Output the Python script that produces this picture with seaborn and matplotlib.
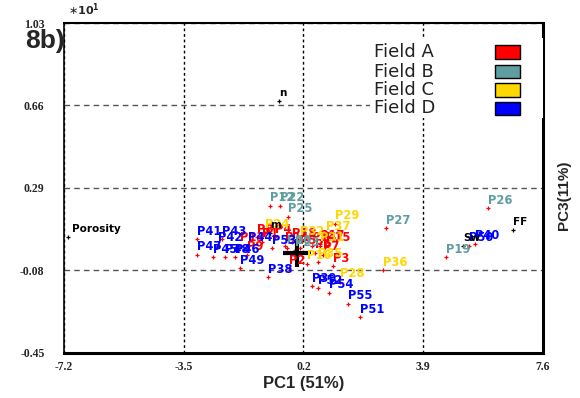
import seaborn as sns
import matplotlib.pyplot as plt
import pandas as pd
from matplotlib.patches import Rectangle

# muestras por campo (PC1, PC3 en unidades *10^1)
field_a_names = ['P1', 'P2', 'P3', 'P4', 'P5', 'P6', 'P7', 'P8', 'P9', 'P11', 'P13', 'P14', 'P15', 'P17', 'P18']
field_a_pc1 = [-1.08, -0.25, 1.11, -0.68, 0.09, 0.56, 0.80, -1.24, -1.55, -0.37, -1.76, 0.46, 0.90, 0.71, -0.15]
field_a_pc3 = [0.05, -0.07, -0.06, 0.07, 0.02, 0.00, -0.01, 0.07, -0.01, 0.03, 0.03, 0.03, 0.03, 0.04, 0.05]

field_b_names = ['P12', 'P22', 'P25', 'P27', 'P26', 'P19', 'P20', 'P23']
field_b_pc1 = [-0.83, -0.53, -0.28, 2.75, 5.90, 4.60, -0.31, -0.06]
field_b_pc3 = [0.21, 0.21, 0.16, 0.11, 0.20, -0.02, 0.02, 0.01]

field_c_names = ['P29', 'P37', 'P31', 'P36', 'P28', 'P16', 'P35', 'P32', 'P24']
field_c_pc1 = [1.17, 0.90, 0.71, 2.66, 1.33, 0.31, 0.65, 0.09, -0.99]
field_c_pc3 = [0.13, 0.08, 0.03, -0.08, -0.13, -0.05, -0.04, 0.06, 0.09]

field_d_names = ['P41', 'P43', 'P42', 'P47', 'P44', 'P48', 'P46', 'P45', 'P49', 'P38', 'P53',
                 'P39', 'P52', 'P54', 'P55', 'P51', 'P40', 'P50']
field_d_pc1 = [-3.09, -2.32, -2.44, -3.09, -1.51, -2.22, -1.92, -2.60, -1.76, -0.90, -0.77,
               0.46, 0.65, 0.99, 1.58, 1.95, 5.50, 5.32]
field_d_pc3 = [0.06, 0.06, 0.03, -0.01, 0.03, -0.02, -0.02, -0.02, -0.07, -0.11, 0.02,
               -0.15, -0.16, -0.18, -0.23, -0.29, 0.04, 0.03]

# variables (cargas)
var_names = ['Porosity', 'FF', 'm', 'n', 'Sw']
var_pc1 = [-7.08, 6.68, -0.83, -0.56, 5.13]
var_pc3 = [0.07, 0.10, 0.09, 0.68, 0.03]

origin_pc1 = [0.0]
origin_pc3 = [0.0]

fields = ['Field A', 'Field B', 'Field C', 'Field D']
field_colors = ['#ff0000', '#5f9ea0', '#ffd700', '#0000ff']

x_ticks = [-7.2, -3.5, 0.2, 3.9, 7.6]
y_ticks = [-0.45, -0.08, 0.29, 0.66, 1.03]


def montar_df():
    partes = []
    for f, n, x, y in zip(fields,
                          [field_a_names, field_b_names, field_c_names, field_d_names],
                          [field_a_pc1, field_b_pc1, field_c_pc1, field_d_pc1],
                          [field_a_pc3, field_b_pc3, field_c_pc3, field_d_pc3]):
        partes.append(pd.DataFrame({'name': n, 'pc1': x, 'pc3': y, 'field': f}))
    return pd.concat(partes, ignore_index=True)


def main():
    sns.set_style('white')
    plt.rcParams['font.family'] = ['DejaVu Sans']

    df = montar_df()
    df_var = pd.DataFrame({'name': var_names, 'pc1': var_pc1, 'pc3': var_pc3})

    fig = plt.figure(figsize=(5.8, 3.98), dpi=100)
    ax = fig.add_axes([0.1103, 0.1131, 0.8259, 0.8291])

    # marcadores
    sns.scatterplot(data=df, x='pc1', y='pc3', color='red', marker='+', s=8,
                    linewidth=0.9, ax=ax, zorder=3)
    sns.scatterplot(data=df_var, x='pc1', y='pc3', color='black', marker='+', s=8,
                    linewidth=0.9, ax=ax, zorder=3)
    ax.plot(origin_pc1, origin_pc3, marker='+', color='black', markersize=20,
            markeredgewidth=3, zorder=4)

    # etiquetas
    cores = dict(zip(fields, field_colors))
    for _, r in df.iterrows():
        ax.annotate(r['name'], (r['pc1'], r['pc3']), xytext=(0, 8), textcoords='offset pixels',
                    ha='left', va='center', fontsize=8.3, fontweight='bold',
                    color=cores[r['field']], zorder=5)
    for _, r in df_var.iterrows():
        dx = 4 if r['name'] == 'Porosity' else 0
        ax.annotate(r['name'], (r['pc1'], r['pc3']), xytext=(dx, 8), textcoords='offset pixels',
                    ha='left', va='center', fontsize=7.5, fontweight='bold',
                    color='black', zorder=5)

    ax.set_xlim(x_ticks[0], x_ticks[-1])
    ax.set_ylim(y_ticks[0], y_ticks[-1])
    ax.set_xticks(x_ticks)
    ax.set_yticks(y_ticks)
    ax.set_xticklabels([f'{v:.1f}' for v in x_ticks], family='Liberation Serif',
                       fontweight='bold', fontsize=8.5)
    ax.set_yticklabels([f'{v:.2f}' for v in y_ticks], family='Liberation Serif',
                       fontweight='bold', fontsize=8.5)
    ax.set_xticks([(a + b) / 2 for a, b in zip(x_ticks[:-1], x_ticks[1:])], minor=True)
    ax.set_yticks([(a + b) / 2 for a, b in zip(y_ticks[:-1], y_ticks[1:])], minor=True)
    ax.tick_params(axis='x', which='major', direction='out', length=3, width=1, pad=3)
    ax.tick_params(axis='y', which='major', direction='out', length=6, width=1, pad=8)
    ax.tick_params(axis='x', which='minor', direction='in', length=3, width=1)
    ax.tick_params(axis='y', which='minor', direction='out', length=3, width=1)

    ax.xaxis.grid(True, which='major', ls=(0, (2, 2)), color='black', lw=1)
    ax.yaxis.grid(True, which='major', ls=(0, (4, 3)), color='#555555', lw=1)
    ax.set_axisbelow(True)

    for lado, w in [('left', 1.2), ('top', 1.5), ('right', 2.2), ('bottom', 2.2)]:
        ax.spines[lado].set_visible(True)
        ax.spines[lado].set_color('black')
        ax.spines[lado].set_linewidth(w)

    ax.set_xlabel('PC1 (51%)', family='Liberation Sans', fontweight='bold', fontsize=12,
                  labelpad=2)
    ax.set_ylabel('')
    fig.text(0.972, 0.51, 'PC3(11%)', rotation=90, ha='center', va='center',
             family='Liberation Sans', fontweight='bold', fontsize=11)

    # leyenda
    ax.add_patch(Rectangle((0.639, 0.712), 0.361, 0.243, transform=ax.transAxes,
                           facecolor='white', edgecolor='none', zorder=6))
    filas = [0.912, 0.853, 0.797, 0.742]
    for f, c, yy in zip(fields, field_colors, filas):
        ax.text(0.647, yy, f, transform=ax.transAxes, ha='left', va='center',
                fontsize=13, color='#222222', zorder=7)
        ax.add_patch(Rectangle((0.90, yy - 0.02), 0.052, 0.04, transform=ax.transAxes,
                               facecolor=c, edgecolor='black', lw=1, zorder=7))

    fig.text(68 / 580, 1 - 10 / 398, r'$\ast\mathbf{10}^{\mathbf{1}}$', ha='left', va='center',
             fontsize=8)
    fig.text(25 / 580, 1 - 41 / 398, '8b)', ha='left', va='center',
             family='Liberation Sans', fontweight='bold', fontsize=19)

    fig.savefig('out.png', dpi=100)


if __name__ == "__main__":
    main()
